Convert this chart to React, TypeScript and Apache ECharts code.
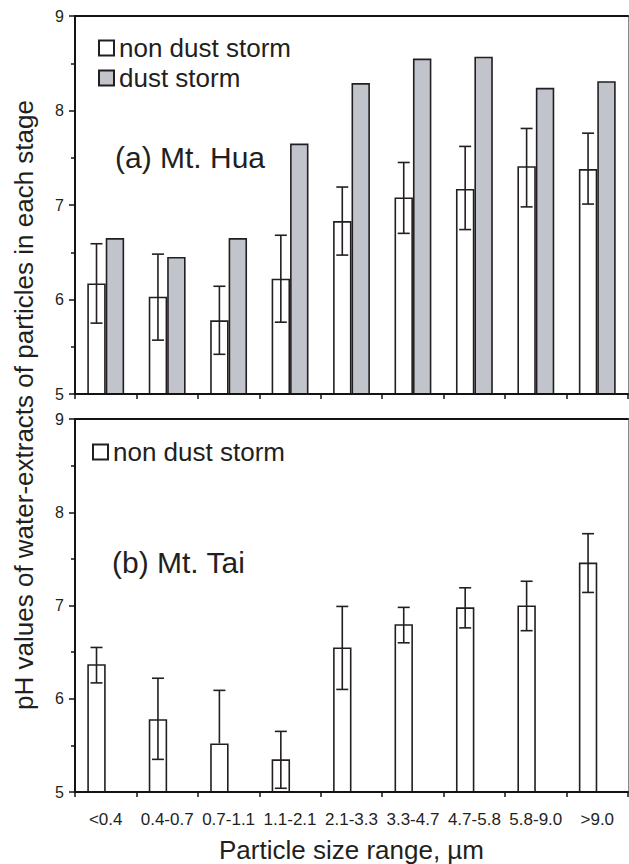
import React, { useEffect, useRef } from "react";
import * as echarts from "echarts";

const categories = ["<0.4", "0.4-0.7", "0.7-1.1", "1.1-2.1", "2.1-3.3", "3.3-4.7", "4.7-5.8", "5.8-9.0", ">9.0"];
const huaNonDust = [6.17, 6.03, 5.78, 6.22, 6.83, 7.08, 7.17, 7.41, 7.38];
const huaNonDustLow = [5.75, 5.57, 5.42, 5.76, 6.47, 6.7, 6.74, 6.98, 7.01];
const huaNonDustHigh = [6.59, 6.48, 6.14, 6.68, 7.19, 7.45, 7.62, 7.81, 7.76];
const huaDust = [6.65, 6.45, 6.65, 7.65, 8.29, 8.55, 8.57, 8.24, 8.31];
const taiNonDust = [6.37, 5.78, 5.52, 5.35, 6.55, 6.8, 6.98, 7.0, 7.46];
const taiNonDustLow = [6.17, 5.35, 4.95, 5.04, 6.1, 6.6, 6.76, 6.73, 7.14];
const taiNonDustHigh = [6.55, 6.22, 6.09, 5.65, 6.99, 6.98, 7.19, 7.26, 7.77];
const yTicks = [5, 6, 7, 8, 9];

const DARK = "#231f20";
const AXIS = "#141213";
const GRAY = "#c1c4cb";
const FONT = "Liberation Sans, Arial, sans-serif";
const BAR_FRAC = 0.3;
const Y_MIN = yTicks[0];
const Y_MAX = yTicks[yTicks.length - 1];

function errRender(params: any, api: any) {
  const idx = api.value(0);
  const mean = api.value(1);
  const lo = api.value(2);
  const hi = api.value(3);
  const band = api.size([1, 0])[0];
  const off = (-band * BAR_FRAC) / 2;
  const c = api.coord([idx, mean]);
  const x = c[0] + off;
  const pHi = api.coord([idx, hi]);
  const cap = 6;
  const children: any[] = [];
  const st = { stroke: DARK, lineWidth: 1.6 };
  let drawLowCap = false;
  let loY = c[1];
  if (lo >= Y_MIN) {
    loY = api.coord([idx, lo])[1];
    drawLowCap = true;
  }
  children.push({ type: "line", shape: { x1: x, y1: pHi[1], x2: x, y2: loY }, style: st });
  children.push({ type: "line", shape: { x1: x - cap, y1: pHi[1], x2: x + cap, y2: pHi[1] }, style: st });
  if (drawLowCap) {
    children.push({ type: "line", shape: { x1: x - cap, y1: loY, x2: x + cap, y2: loY }, style: st });
  }
  return { type: "group", children };
}

function makeY(gridIndex: number) {
  return {
    type: "value",
    gridIndex,
    min: Y_MIN,
    max: Y_MAX,
    interval: 1,
    z: 10,
    axisLine: { show: true, lineStyle: { color: AXIS, width: 2, opacity: 1 } },
    axisTick: { show: true, inside: false, length: 6, lineStyle: { color: AXIS, width: 1.5 } },
    minorTick: { show: true, splitNumber: 2, length: 4, lineStyle: { color: AXIS, width: 1.5 } },
    splitLine: { show: false },
    axisLabel: { color: DARK, fontSize: 16, fontFamily: FONT, margin: 11 },
  };
}

function makeRightY(gridIndex: number) {
  return {
    type: "value",
    gridIndex,
    position: "right",
    min: Y_MIN,
    max: Y_MAX,
    interval: 1,
    axisLine: { show: true, lineStyle: { color: "#8a8a8a", width: 1 } },
    axisTick: { show: false },
    axisLabel: { show: false },
    splitLine: { show: false },
  };
}

function makeX(gridIndex: number, showLabel: boolean) {
  return {
    type: "category",
    gridIndex,
    data: categories,
    position: "bottom",
    z: 10,
    axisLine: { show: true, lineStyle: { color: AXIS, width: 2, opacity: 1 } },
    axisTick: { show: true, inside: false, length: 5, alignWithLabel: false, lineStyle: { color: AXIS, width: 1.5 } },
    axisLabel: { show: showLabel, color: DARK, fontSize: 17, fontFamily: FONT, margin: 19, interval: 0 },
    splitLine: { show: false },
    ...(showLabel
      ? {
          name: "Particle size range, µm",
          nameLocation: "middle",
          nameGap: 45,
          nameTextStyle: { color: DARK, fontSize: 26, fontFamily: FONT },
        }
      : {}),
  };
}

function makeTopLine(gridIndex: number) {
  return {
    type: "category",
    gridIndex,
    data: categories,
    position: "top",
    z: 10,
    axisLine: { show: true, lineStyle: { color: AXIS, width: 2 } },
    axisTick: { show: false },
    axisLabel: { show: false },
    splitLine: { show: false },
  };
}

export default function App() {
  const ref = useRef<HTMLDivElement>(null);
  useEffect(() => {
    if (!ref.current) return;
    const chart = echarts.init(ref.current, null, { renderer: "svg" });
    const barStyleWhite = { color: "#ffffff", borderColor: DARK, borderWidth: 1.6 };
    const barStyleGray = { color: GRAY, borderColor: DARK, borderWidth: 1.6 };
    const option: any = {
      animation: false,
      backgroundColor: "#ffffff",
      textStyle: { fontFamily: FONT },
      grid: [
        { left: 75, top: 16, width: 553, height: 378 },
        { left: 75, top: 419, width: 553, height: 374 },
      ],
      xAxis: [makeX(0, false), makeX(1, true), makeTopLine(0), makeTopLine(1)],
      yAxis: [makeY(0), makeY(1), makeRightY(0), makeRightY(1)],
      legend: [
        {
          data: ["non dust storm", "dust storm"],
          orient: "vertical",
          left: 98,
          top: 35,
          padding: 0,
          itemGap: 4,
          itemWidth: 15,
          itemHeight: 15,
          icon: "rect",
          selectedMode: false,
          textStyle: { color: DARK, fontSize: 26, fontFamily: FONT, lineHeight: 25 },
        },
        {
          data: ["non dust storm"],
          orient: "vertical",
          left: 92,
          top: 439,
          padding: 0,
          itemWidth: 15,
          itemHeight: 15,
          icon: "rect",
          selectedMode: false,
          textStyle: { color: DARK, fontSize: 26, fontFamily: FONT, lineHeight: 25 },
        },
      ],
      graphic: [
        {
          type: "text",
          x: 115,
          y: 157,
          style: { text: "(a) Mt. Hua", font: `30px ${FONT}`, fill: DARK, verticalAlign: "middle" },
        },
        {
          type: "text",
          x: 112,
          y: 562,
          style: { text: "(b) Mt. Tai", font: `30px ${FONT}`, fill: DARK, verticalAlign: "middle" },
        },
        {
          type: "text",
          x: 24,
          y: 405,
          rotation: Math.PI / 2,
          style: {
            text: "pH values of water-extracts of particles in each stage",
            font: `26px ${FONT}`,
            fill: DARK,
            align: "center",
            verticalAlign: "middle",
          },
        },
      ],
      series: [
        {
          name: "non dust storm",
          type: "bar",
          xAxisIndex: 0,
          yAxisIndex: 0,
          barWidth: `${BAR_FRAC * 100}%`,
          barGap: "0%",
          data: huaNonDust,
          itemStyle: barStyleWhite,
          z: 2,
        },
        {
          name: "dust storm",
          type: "bar",
          xAxisIndex: 0,
          yAxisIndex: 0,
          barWidth: `${BAR_FRAC * 100}%`,
          barGap: "0%",
          data: huaDust,
          itemStyle: barStyleGray,
          z: 2,
        },
        {
          name: "err-hua",
          type: "custom",
          xAxisIndex: 0,
          yAxisIndex: 0,
          renderItem: errRender,
          encode: { x: 0, y: 1 },
          data: huaNonDust.map((v, i) => [i, v, huaNonDustLow[i], huaNonDustHigh[i]]),
          z: 5,
        },
        {
          name: "non dust storm",
          type: "bar",
          xAxisIndex: 1,
          yAxisIndex: 1,
          barWidth: `${BAR_FRAC * 100}%`,
          barGap: "0%",
          data: taiNonDust,
          itemStyle: barStyleWhite,
          z: 2,
        },
        {
          name: "tai-placeholder",
          type: "bar",
          xAxisIndex: 1,
          yAxisIndex: 1,
          barWidth: `${BAR_FRAC * 100}%`,
          barGap: "0%",
          data: categories.map(() => null),
          itemStyle: barStyleGray,
          z: 2,
        },
        {
          name: "err-tai",
          type: "custom",
          xAxisIndex: 1,
          yAxisIndex: 1,
          renderItem: errRender,
          encode: { x: 0, y: 1 },
          data: taiNonDust.map((v, i) => [i, v, taiNonDustLow[i], taiNonDustHigh[i]]),
          z: 5,
        },
      ],
    };
    chart.setOption(option);
    return () => chart.dispose();
  }, []);
  return (
    <div
      ref={ref}
      style={{ position: "fixed", left: 0, top: 0, width: 629, height: 864, background: "#fff" }}
    />
  );
}
